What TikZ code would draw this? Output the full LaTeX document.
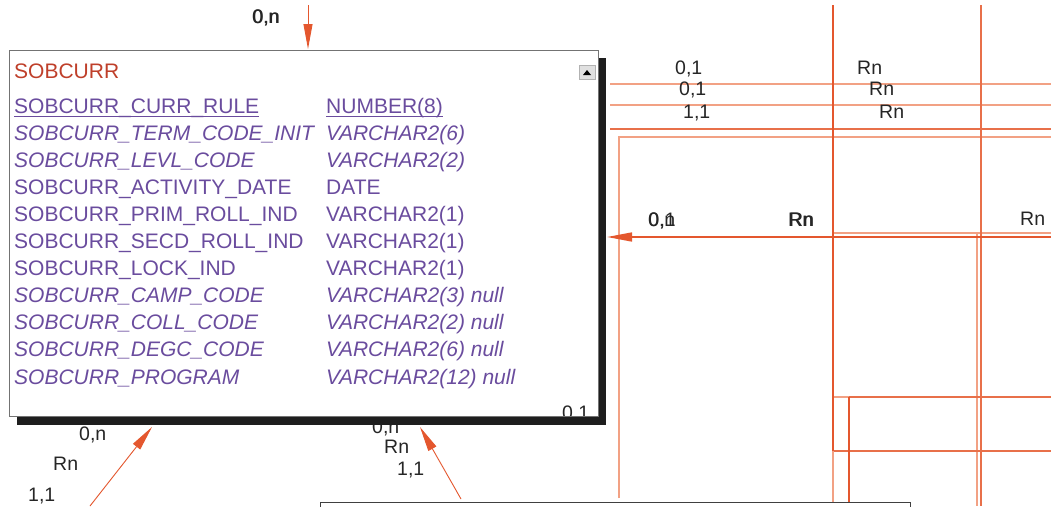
\documentclass[tikz,border=0pt]{standalone}
\usepackage{fontspec}
\setmainfont{Liberation Sans}
\usetikzlibrary{arrows.meta}
\definecolor{ora}{HTML}{E4572E}
\definecolor{orm}{HTML}{E8704A}
\definecolor{orl}{HTML}{F2A184}
\definecolor{purp}{HTML}{6A4C9E}
\definecolor{ttl}{HTML}{BF3F2A}
\definecolor{shad}{HTML}{1E1E1E}
\tikzset{
  lbl/.style={anchor=base west,inner sep=0pt,font=\fontsize{19.5}{22}\selectfont,text=black!85},
  row/.style={anchor=base west,inner sep=0pt,font=\fontsize{21}{24}\selectfont,text=purp},
  irow/.style={row,font=\fontsize{21}{24}\selectfont\itshape},
  thick line/.style={draw=ora,line width=1.6pt},
  mid line/.style={draw=orm,line width=1.1pt},
  light line/.style={draw=orl,line width=1.1pt},
  conn/.style={draw=ora,line width=0.9pt,-{Triangle[length=25pt,width=9pt]}},
}
\begin{document}
\begin{tikzpicture}[x=1pt,y=-1pt]
\useasboundingbox (0,0) rectangle (1051,506);
\fill[white] (0,0) rectangle (1051,506);
% ---------- coordinates for right-side lines
\coordinate (v1t) at (833,5);   \coordinate (v1m) at (833,451); \coordinate (v1b) at (833,506);
\coordinate (v2t) at (981,5);   \coordinate (v2b) at (981,506);
\coordinate (v3t) at (977,233); \coordinate (v3b) at (977,506);
\coordinate (h1a) at (610,84);  \coordinate (h1b) at (1051,84);
\coordinate (h2a) at (610,105); \coordinate (h2b) at (1051,105);
\coordinate (h3a) at (610,129); \coordinate (h3b) at (1051,129);
\coordinate (bxa) at (619,498); \coordinate (bxb) at (619,137); \coordinate (bxc) at (1051,137);
\coordinate (h4a) at (833,233); \coordinate (h4b) at (1051,233);
\coordinate (arrS) at (1051,237); \coordinate (arrE) at (607,237);
\coordinate (h5a) at (833,397); \coordinate (h5m) at (849,397); \coordinate (h5b) at (1051,397);
\coordinate (v4t) at (849,397); \coordinate (v4b) at (849,506);
\coordinate (h6a) at (833,451); \coordinate (h6b) at (1051,451);
% ---------- lines
\draw[light line] (h1a) -- (h1b);
\draw[light line] (h2a) -- (h2b);
\draw[mid line] (h3a) -- (h3b);
\draw[light line] (bxa) -- (bxb) -- (bxc);
\draw[light line] (h4a) -- (h4b);
\draw[light line] (v3t) -- (v3b);
\draw[light line] (h5a) -- (h5m);
\draw[mid line] (h5m) -- (h5b);
\draw[mid line] (h6a) -- (h6b);
\draw[draw=ora,line width=1.1pt] (v4t) -- (v4b);
\draw[thick line] (v1t) -- (v1m);
\draw[light line] (v1m) -- (v1b);
\draw[mid line] (v2t) -- (v2b);
% bottom box (partly visible)
\node[draw=black!75,line width=1pt,fill=white,minimum width=590pt,minimum height=20pt,anchor=north west,inner sep=0pt] (bottom) at (320,502) {};
% ---------- labels
\node[lbl] (t0a) at (252,23) {0,n};
\node[lbl] (t0b) at (252.6,23) {0,n};
\node[lbl] (r1) at (675,74) {0,1};
\node[lbl] (r2) at (679,95) {0,1};
\node[lbl] (r3) at (683,118) {1,1};
\node[lbl] (r4) at (857,74) {Rn};
\node[lbl] (r5) at (869,95) {Rn};
\node[lbl] (r6) at (879,118) {Rn};
\node[lbl] (m1) at (648,226) {0,n};
\node[lbl] (m2) at (648.5,226) {0,1};
\node[lbl] (m3) at (788,226) {Rn};
\node[lbl] (m4) at (789,226) {Rn};
\node[lbl] (m5) at (1020,225) {Rn};
\node[lbl] (s1) at (563,307) {Rn};
\node[lbl] (b1) at (79,440) {0,n};
\node[lbl] (b2) at (53,470) {Rn};
\node[lbl] (b3) at (28,501) {1,1};
\node[lbl] (b4) at (372,433) {0,n};
\node[lbl] (b5) at (384,453) {Rn};
\node[lbl] (b6) at (397,475) {1,1};
% ---------- main entity box
\node[fill=shad,minimum width=589pt,minimum height=367pt,anchor=north west,inner sep=0pt] (shadow) at (17,58) {};
\node[draw=black!55,line width=0.8pt,fill=white,minimum width=589pt,minimum height=366pt,anchor=north west,inner sep=0pt] (ent) at (9,50) {};
\node[lbl] (s2) at (562,419) {0,1};
\fill[shad] (17,416.4) rectangle (606,425);
\draw[black!55,line width=0.8pt] (ent.south west) -- (ent.south east);
\node[anchor=base west,inner sep=0pt,font=\fontsize{21}{24}\selectfont,text=ttl] (title) at (14,78) {SOBCURR};
\node[draw=black!30,fill=black!12,minimum width=16pt,minimum height=14pt,inner sep=0pt] (btn) at (587,72) {};
\fill[black] (583,75) -- (591,75) -- (587,70) -- cycle;
% rows
\node[row] (c1) at (14,113) {SOBCURR\_CURR\_RULE};
\node[row] (d1) at (326,113) {NUMBER(8)};
\draw[purp,line width=1pt] ([yshift=-3.5pt]c1.base west) -- ([yshift=-3.5pt]c1.base east);
\draw[purp,line width=1pt] ([yshift=-3.5pt]d1.base west) -- ([yshift=-3.5pt]d1.base east);
\node[irow] (c2) at (14,140.1) {SOBCURR\_TERM\_CODE\_INIT};
\node[irow] (d2) at (326,140.1) {VARCHAR2(6)};
\node[irow] (c3) at (14,167.2) {SOBCURR\_LEVL\_CODE};
\node[irow] (d3) at (326,167.2) {VARCHAR2(2)};
\node[row] (c4) at (14,194.3) {SOBCURR\_ACTIVITY\_DATE};
\node[row] (d4) at (326,194.3) {DATE};
\node[row] (c5) at (14,221.4) {SOBCURR\_PRIM\_ROLL\_IND};
\node[row] (d5) at (326,221.4) {VARCHAR2(1)};
\node[row] (c6) at (14,248.5) {SOBCURR\_SECD\_ROLL\_IND};
\node[row] (d6) at (326,248.5) {VARCHAR2(1)};
\node[row] (c7) at (14,275.6) {SOBCURR\_LOCK\_IND};
\node[row] (d7) at (326,275.6) {VARCHAR2(1)};
\node[irow] (c8) at (14,302.7) {SOBCURR\_CAMP\_CODE};
\node[irow] (d8) at (326,302.7) {VARCHAR2(3) null};
\node[irow] (c9) at (14,329.8) {SOBCURR\_COLL\_CODE};
\node[irow] (d9) at (326,329.8) {VARCHAR2(2) null};
\node[irow] (c10) at (14,356.9) {SOBCURR\_DEGC\_CODE};
\node[irow] (d10) at (326,356.9) {VARCHAR2(6) null};
\node[irow] (c11) at (14,384) {SOBCURR\_PROGRAM};
\node[irow] (d11) at (326,384) {VARCHAR2(12) null};
% ---------- connectors
\coordinate (topS) at (308,5);   \coordinate (topE) at (308,49);
\coordinate (blS) at (90,506);   \coordinate (blE) at (152,427);
\coordinate (bmS) at (461,499);  \coordinate (bmE) at (420,427);
\draw[conn] (topS) -- (topE);
\draw[conn] (blS) -- (blE);
\draw[conn] (bmS) -- (bmE);
\draw[conn,line width=1.6pt] (arrS) -- (arrE);
\end{tikzpicture}
\end{document}
